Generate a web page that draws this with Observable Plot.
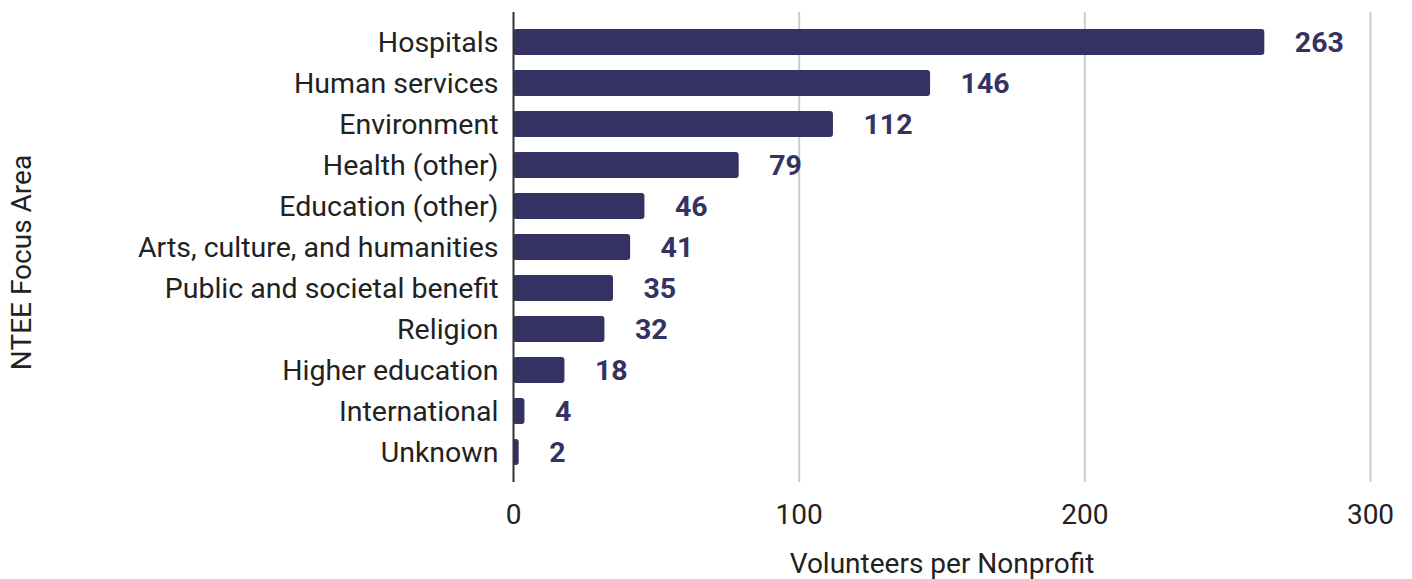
<!DOCTYPE html>
<html>
<head>
<meta charset="utf-8">
<script src="https://cdn.jsdelivr.net/npm/d3@7"></script>
<script src="https://cdn.jsdelivr.net/npm/@observablehq/plot@0.6"></script>
<style>
  html, body { margin: 0; padding: 0; background: #fff; }
  #chart svg { display: block; }
</style>
</head>
<body>
<div id="chart"></div>
<script>
const categories = ["Hospitals", "Human services", "Environment", "Health (other)", "Education (other)", "Arts, culture, and humanities", "Public and societal benefit", "Religion", "Higher education", "International", "Unknown"];
const values = [263, 146, 112, 79, 46, 41, 35, 32, 18, 4, 2];
const xTicks = [0, 100, 200, 300];
const xLabel = "Volunteers per Nonprofit";
const yLabel = "NTEE Focus Area";

const data = categories.map((c, i) => ({category: c, value: values[i]}));
const barColor = "#333262";

const chart = Plot.plot({
  width: 1412,
  height: 579,
  marginLeft: 513,
  marginRight: 42,
  marginTop: 12,
  marginBottom: 97,
  style: {fontFamily: "Roboto, sans-serif", fontSize: "28px", color: "#222", background: "#fff"},
  x: {domain: [0, 300], ticks: xTicks},
  y: {domain: categories, paddingInner: 0.3735, paddingOuter: 0.35},
  marks: [
    Plot.gridX(xTicks.filter(d => d > 0), {stroke: "#cccccc", strokeWidth: 2, strokeOpacity: 1}),
    Plot.axisX({ticks: xTicks, tickSize: 0, tickPadding: 22, fontSize: 28, label: xLabel, labelAnchor: "center", labelArrow: "none", labelOffset: 90, fill: "#222"}),
    Plot.axisY({tickSize: 0, tickPadding: 15, fontSize: 28.5, label: null, fill: "#222"}),
    Plot.text([yLabel], {frameAnchor: "left", rotate: -90, dx: -491, dy: 15, fontSize: 28, fill: "#222", textAnchor: "middle"}),
    Plot.barX(data, {x: "value", y: "category", fill: barColor, rx: 3}),
    Plot.text(data, {x: "value", y: "category", text: d => String(d.value), dx: 30, textAnchor: "start", fill: barColor, fontWeight: "bold", fontSize: 28.5}),
    Plot.ruleX([0], {stroke: "#333", strokeWidth: 2})
  ]
});
document.getElementById("chart").appendChild(chart);
</script>
</body>
</html>
